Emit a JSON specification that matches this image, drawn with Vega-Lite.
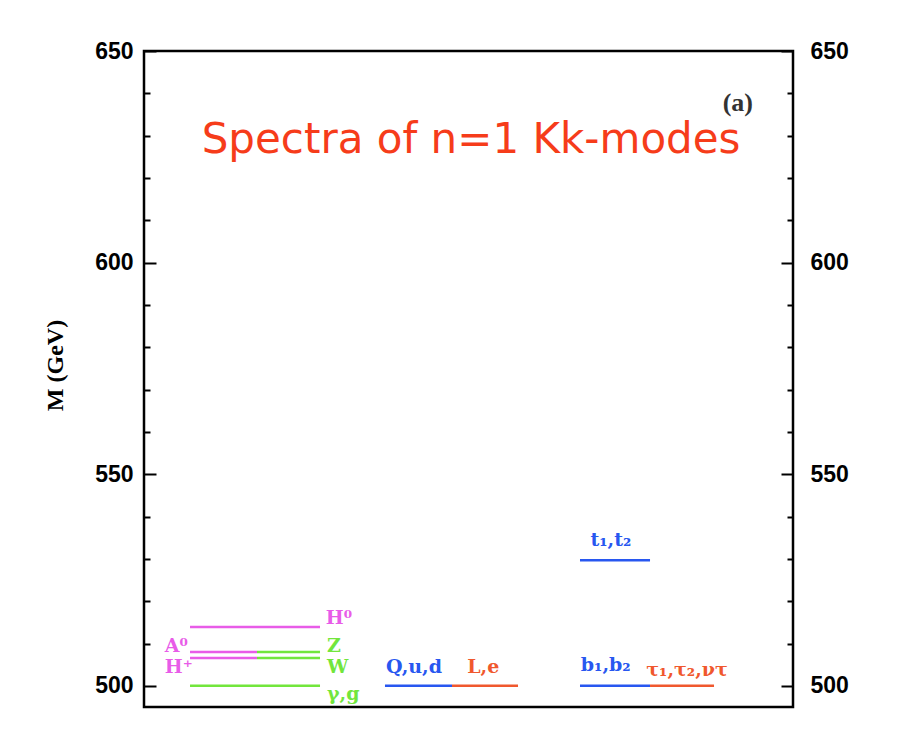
{
  "$schema": "https://vega.github.io/schema/vega-lite/v6.json",
  "width": 649,
  "height": 656,
  "autosize": "none",
  "padding": {"left": 144, "top": 51, "right": 131, "bottom": 46},
  "background": "white",
  "config": {
    "view": {"stroke": "black", "strokeWidth": 2.5},
    "axis": {
      "domain": false,
      "grid": false,
      "tickColor": "black",
      "tickWidth": 2,
      "labelFont": "Liberation Sans",
      "labelFontWeight": "bold",
      "labelFontSize": 23,
      "labelColor": "black",
      "labelBaseline": "middle"
    }
  },
  "datasets": {
    "levels": [
      {"particle": "H0", "x1": 0.709, "x2": 2.712, "mass": 513.9, "sector": "Higgs"},
      {"particle": "A0", "x1": 0.709, "x2": 1.741, "mass": 508.0, "sector": "Higgs"},
      {"particle": "Z", "x1": 1.741, "x2": 2.712, "mass": 508.0, "sector": "gauge"},
      {"particle": "H+", "x1": 0.709, "x2": 1.741, "mass": 506.6, "sector": "Higgs"},
      {"particle": "W", "x1": 1.741, "x2": 2.712, "mass": 506.6, "sector": "gauge"},
      {"particle": "gamma,g", "x1": 0.709, "x2": 2.712, "mass": 500.0, "sector": "gauge"},
      {"particle": "Q,u,d", "x1": 3.713, "x2": 4.746, "mass": 500.0, "sector": "quark"},
      {"particle": "L,e", "x1": 4.746, "x2": 5.763, "mass": 500.0, "sector": "lepton"},
      {"particle": "t1,t2", "x1": 6.718, "x2": 7.797, "mass": 529.7, "sector": "quark"},
      {"particle": "b1,b2", "x1": 6.718, "x2": 7.797, "mass": 500.0, "sector": "quark"},
      {"particle": "tau", "x1": 7.797, "x2": 8.783, "mass": 500.0, "sector": "lepton"}
    ],
    "labels": [
      {"text": "H⁰", "x": 2.80, "mass": 516.0, "sector": "Higgs"},
      {"text": "A⁰", "x": 0.32, "mass": 509.5, "sector": "Higgs"},
      {"text": "H⁺", "x": 0.32, "mass": 504.5, "sector": "Higgs"},
      {"text": "Z", "x": 2.82, "mass": 509.4, "sector": "gauge"},
      {"text": "W", "x": 2.82, "mass": 504.4, "sector": "gauge"},
      {"text": "γ,g", "x": 2.82, "mass": 498.0, "sector": "gauge"},
      {"text": "Q,u,d", "x": 3.73, "mass": 504.4, "sector": "quark"},
      {"text": "L,e", "x": 4.98, "mass": 504.4, "sector": "lepton"},
      {"text": "t₁,t₂", "x": 6.88, "mass": 534.4, "sector": "quark"},
      {"text": "b₁,b₂", "x": 6.73, "mass": 504.9, "sector": "quark"},
      {"text": "τ₁,τ₂,ντ", "x": 7.74, "mass": 503.7, "sector": "lepton"}
    ],
    "heading": [
      {"text": "Spectra of n=1 Kk-modes", "x": 5.04, "mass": 625.9}
    ],
    "panel": [
      {"text": "(a)", "x": 9.15, "mass": 635.8}
    ]
  },
  "layer": [
    {
      "data": {"name": "levels"},
      "transform": [{"filter": "datum.sector == 'Higgs' || datum.sector == 'gauge'"}],
      "mark": {"type": "rule", "strokeWidth": 2.5},
      "encoding": {
        "x": {"field": "x1", "type": "quantitative", "scale": {"domain": [0, 10], "nice": false}, "axis": null},
        "x2": {"field": "x2"},
        "y": {
          "field": "mass", "type": "quantitative",
          "scale": {"domain": [495, 650], "nice": false, "zero": false},
          "axis": {
            "orient": "left", "values": [500, 550, 600, 650], "tickSize": -12, "labelPadding": 23,
            "title": "M (GeV)", "titleFont": "Liberation Serif", "titleFontWeight": "bold", "titleFontSize": 24,
            "titleColor": "black", "titlePadding": 27, "titleY": 314
          }
        },
        "color": {
          "field": "sector", "type": "nominal", "legend": null,
          "scale": {"domain": ["Higgs", "gauge", "quark", "lepton"], "range": ["#e85ce8", "#72e63c", "#2857f0", "#f0582e"]}
        }
      }
    },
    {
      "data": {"name": "levels"},
      "transform": [{"filter": "datum.sector == 'quark' || datum.sector == 'lepton'"}],
      "mark": {"type": "rule", "strokeWidth": 2.5},
      "encoding": {
        "x": {"field": "x1", "type": "quantitative", "scale": {"domain": [0, 10], "nice": false}, "axis": null},
        "x2": {"field": "x2"},
        "y": {
          "field": "mass", "type": "quantitative",
          "scale": {"domain": [495, 650], "nice": false, "zero": false},
          "axis": {"orient": "right", "values": [500, 550, 600, 650], "tickSize": -12, "labelPadding": 29, "title": null}
        },
        "color": {
          "field": "sector", "type": "nominal", "legend": null,
          "scale": {"domain": ["Higgs", "gauge", "quark", "lepton"], "range": ["#e85ce8", "#72e63c", "#2857f0", "#f0582e"]}
        }
      }
    },
    {
      "data": {"name": "labels"},
      "mark": {"type": "text", "align": "left", "baseline": "middle", "font": "DejaVu Serif", "fontWeight": "bold", "fontSize": 19},
      "encoding": {
        "x": {"field": "x", "type": "quantitative", "scale": {"domain": [0, 10], "nice": false}, "axis": null},
        "y": {
          "field": "mass", "type": "quantitative",
          "scale": {"domain": [495, 650], "nice": false, "zero": false},
          "axis": {"orient": "left", "values": [510, 520, 530, 540, 560, 570, 580, 590, 610, 620, 630, 640], "tickSize": -6, "labels": false, "title": null}
        },
        "text": {"field": "text"},
        "color": {
          "field": "sector", "type": "nominal", "legend": null,
          "scale": {"domain": ["Higgs", "gauge", "quark", "lepton"], "range": ["#e85ce8", "#72e63c", "#2857f0", "#f0582e"]}
        }
      }
    },
    {
      "data": {"name": "heading"},
      "mark": {"type": "text", "align": "center", "baseline": "alphabetic", "font": "DejaVu Sans", "fontSize": 42, "color": "#f63c1a"},
      "encoding": {
        "x": {"field": "x", "type": "quantitative", "scale": {"domain": [0, 10], "nice": false}, "axis": null},
        "y": {
          "field": "mass", "type": "quantitative",
          "scale": {"domain": [495, 650], "nice": false, "zero": false},
          "axis": {"orient": "right", "values": [510, 520, 530, 540, 560, 570, 580, 590, 610, 620, 630, 640], "tickSize": -6, "labels": false, "title": null}
        },
        "text": {"field": "text"}
      }
    },
    {
      "data": {"name": "panel"},
      "mark": {"type": "text", "align": "center", "baseline": "alphabetic", "font": "Liberation Serif", "fontWeight": "bold", "fontSize": 26, "color": "#333333"},
      "encoding": {
        "x": {"field": "x", "type": "quantitative", "scale": {"domain": [0, 10], "nice": false}, "axis": null},
        "y": {
          "field": "mass", "type": "quantitative",
          "scale": {"domain": [495, 650], "nice": false, "zero": false},
          "axis": null
        },
        "text": {"field": "text"}
      }
    }
  ],
  "resolve": {"axis": {"y": "independent"}}
}
